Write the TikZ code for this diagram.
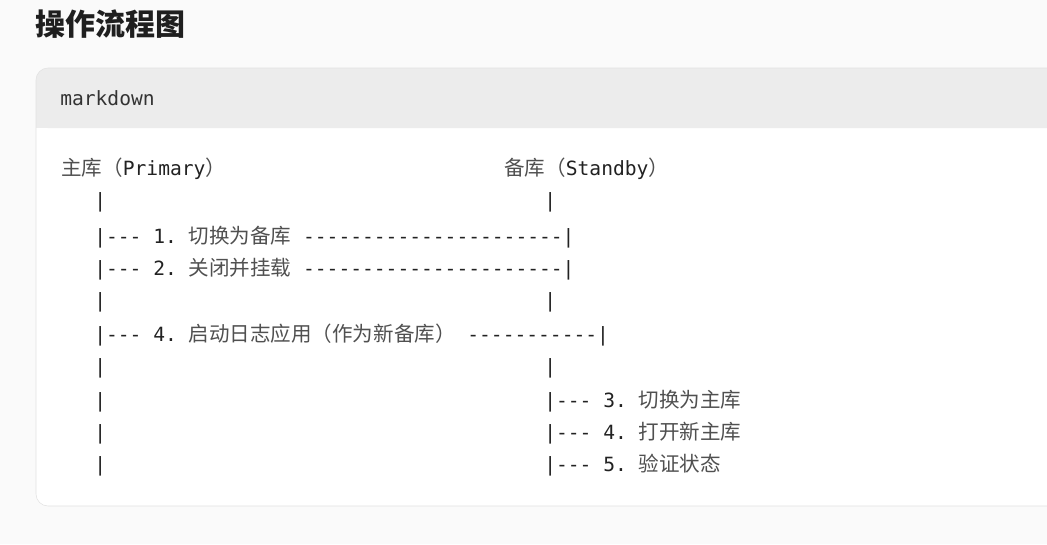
\documentclass[tikz,border=0pt]{standalone}
\usepackage{fontspec}
\setmonofont{DejaVu Sans Mono}
\newfontfamily\cjk{Noto Sans CJK SC}
\definecolor{pagebg}{HTML}{FAFAFA}
\definecolor{headbg}{HTML}{ECECEC}
\definecolor{blockline}{HTML}{E2E2E2}
\definecolor{codeblack}{HTML}{222222}
\definecolor{zhgray}{HTML}{505050}
\newcommand\zh[1]{{\fontsize{15.4}{16}\cjk\color{zhgray}#1}}
\begin{document}
\begin{tikzpicture}[x=0.75pt,y=-0.75pt,
    code/.style={anchor=base west, inner sep=0pt, text=codeblack,
      font=\fontsize{14.7}{16}\ttfamily}]
  % page and code block
  \fill[pagebg] (0,0) rectangle (1047,544);
  \useasboundingbox (0,0) rectangle (1047,544);
  \fill[white, rounded corners=9] (36,68) rectangle (1070,506);
  \fill[headbg, rounded corners=9] (36,68) rectangle (1070,128);
  \fill[headbg] (36,110) rectangle (1070,128);
  \draw[blockline, rounded corners=9] (36,68) rectangle (1070,506);
  \node[anchor=base west, inner sep=0pt, text=black!88,
    font=\fontsize{22.5}{24}\cjk\bfseries] (title) at (35,35) {操作流程图};
  \node[code, text=black!80] (lang) at (60,105) {markdown};
  % the ascii drawing, one node per line
  \node[code] (prim) at (61,175) {\zh{主库（}Primary\zh{）}};
  \node[code] (stby) at (504,175) {\zh{备库（}Standby\zh{）}};
  \node[code] (pa) at (94,207) {|};
  \node[code] (sa) at (544,207) {|};
  \node[code] (step1) at (94,243) {|--- 1. \zh{切换为备库} ----------------------|};
  \node[code] (step2) at (94,275) {|--- 2. \zh{关闭并挂载} ----------------------|};
  \node[code] (pb) at (94,307) {|};
  \node[code] (sb) at (544,307) {|};
  \node[code] (step4a) at (94,341) {|--- 4. \zh{启动日志应用（作为新备库）} -----------|};
  \node[code] (pc) at (94,373) {|};
  \node[code] (sc) at (544,373) {|};
  \node[code] (pd) at (94,407) {|};
  \node[code] (step3) at (544,407) {|--- 3. \zh{切换为主库}};
  \node[code] (pe) at (94,439) {|};
  \node[code] (step4b) at (544,439) {|--- 4. \zh{打开新主库}};
  \node[code] (pf) at (94,471) {|};
  \node[code] (step5) at (544,471) {|--- 5. \zh{验证状态}};
\end{tikzpicture}
\end{document}
